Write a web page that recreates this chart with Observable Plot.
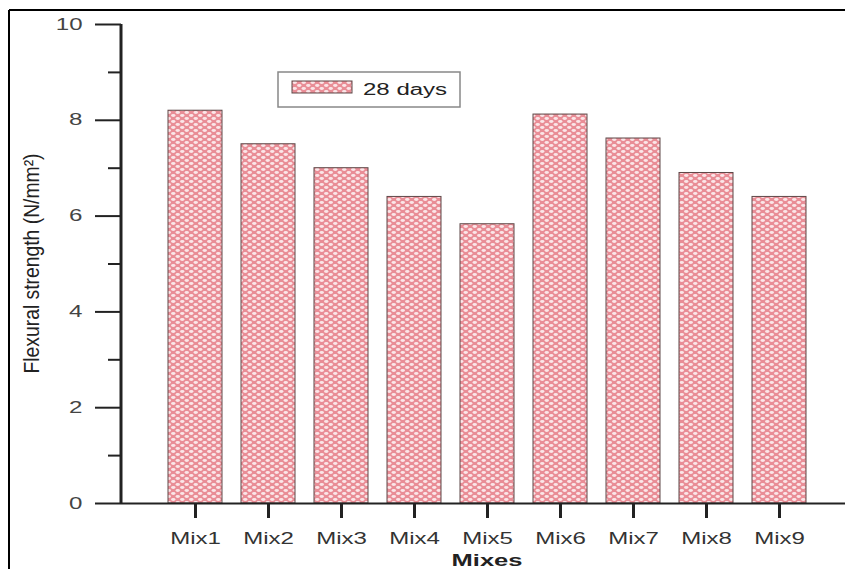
<!DOCTYPE html>
<html>
<head>
<meta charset="utf-8">
<script src="https://cdn.jsdelivr.net/npm/d3@7"></script>
<script src="https://cdn.jsdelivr.net/npm/@observablehq/plot@0.6"></script>
<style>
  html, body { margin: 0; padding: 0; background: #fff; overflow: hidden; }
  #chart svg { display: block; }
</style>
</head>
<body>
<div id="chart"></div>
<script>
const mixes = ["Mix1", "Mix2", "Mix3", "Mix4", "Mix5", "Mix6", "Mix7", "Mix8", "Mix9"];
const strength28 = [8.2, 7.5, 7.0, 6.4, 5.83, 8.12, 7.62, 6.9, 6.4];
const yMajorTicks = [0, 2, 4, 6, 8, 10];
const yMinorTicks = [1, 3, 5, 7, 9];
const seriesName = "28 days";
const xTitle = "Mixes";
const yTitle = "Flexural strength (N/mm²)";

const data = mixes.map((m, i) => ({mix: m, value: strength28[i]}));

const chart = Plot.plot({
  width: 845,
  height: 569,
  marginLeft: 121,
  marginRight: 0,
  marginTop: 24,
  marginBottom: 66,
  style: {background: "#fff", fontFamily: "'Liberation Sans', Arial, sans-serif", color: "#222"},
  x: {type: "band", domain: mixes, range: [121, 853], paddingInner: 0.264, paddingOuter: 0.62, label: null},
  y: {domain: [0, 10], label: null},
  marks: [
    Plot.barY(data, {x: "mix", y: "value", fill: "url(#dots)", stroke: "#5e4848", strokeWidth: 1}),
    Plot.ruleY([0], {stroke: "#222", strokeWidth: 2}),
    Plot.axisY({ticks: yMajorTicks, tickSize: 26, tickPadding: 13, fontSize: 16, strokeWidth: 2, label: null, tickFormat: d => String(d)}),
    Plot.axisY({ticks: yMinorTicks, tickSize: 13, strokeWidth: 2, label: null, tickFormat: () => ""}),
    Plot.axisX({tickSize: 15, tickPadding: 14, fontSize: 16, strokeWidth: 3, label: null})
  ]
});

document.getElementById("chart").appendChild(chart);
const svg = d3.select(chart);
const ys = chart.scale("y");

// pattern
const defs = svg.insert("defs", ":first-child");
const pat = defs.append("pattern").attr("id", "dots").attr("patternUnits", "userSpaceOnUse")
  .attr("width", 9).attr("height", 6);
pat.append("rect").attr("width", 9).attr("height", 6).attr("fill", "#e98d96");
pat.append("ellipse").attr("cx", 2.25).attr("cy", 1.5).attr("rx", 2.2).attr("ry", 1.4).attr("fill", "#fbe6e8");
pat.append("ellipse").attr("cx", 6.75).attr("cy", 4.5).attr("rx", 2.2).attr("ry", 1.4).attr("fill", "#fbe6e8");

// y axis line
svg.append("line")
  .attr("x1", 121).attr("x2", 121)
  .attr("y1", ys.apply(0) + 1).attr("y2", ys.apply(10))
  .attr("stroke", "#222").attr("stroke-width", 3);

// stretch horizontal texts (reference image is stretched horizontally)
svg.selectAll("text").each(function() {
  const len = this.getComputedTextLength();
  if (len > 0) {
    this.setAttribute("textLength", (len * 1.5).toFixed(1));
    this.setAttribute("lengthAdjust", "spacingAndGlyphs");
  }
});
svg.selectAll('g[aria-label="y-axis tick label"] text').attr("fill", "#444");
svg.selectAll('g[aria-label="x-axis tick label"] text').attr("fill", "#333");

// x title
const xt = svg.append("text").attr("x", 487).attr("y", 566)
  .attr("text-anchor", "middle").attr("font-weight", "bold").attr("font-size", 17)
  .attr("fill", "#222").text(xTitle);
xt.attr("textLength", (xt.node().getComputedTextLength() * 1.5).toFixed(1)).attr("lengthAdjust", "spacingAndGlyphs");

// y title
svg.append("text").attr("transform", "translate(39," + ((ys.apply(0) + ys.apply(10)) / 2) + ") rotate(-90) scale(1,1.35)")
  .attr("text-anchor", "middle").attr("font-size", 16).attr("fill", "#222")
  .attr("textLength", 220).attr("lengthAdjust", "spacingAndGlyphs")
  .text(yTitle);

// legend
const lg = svg.append("g");
lg.append("rect").attr("x", 278).attr("y", 72).attr("width", 182).attr("height", 35)
  .attr("fill", "#fff").attr("stroke", "#888").attr("stroke-width", 1.5);
lg.append("rect").attr("x", 292).attr("y", 81).attr("width", 60).attr("height", 12)
  .attr("fill", "url(#dots)").attr("stroke", "#5e4848").attr("stroke-width", 1);
const lt = lg.append("text").attr("x", 363).attr("y", 95).attr("text-anchor", "start")
  .attr("font-size", 16).attr("fill", "#222").text(seriesName);
lt.attr("textLength", (lt.node().getComputedTextLength() * 1.5).toFixed(1)).attr("lengthAdjust", "spacingAndGlyphs");

// outer frame lines
svg.append("line").attr("x1", 9).attr("x2", 845).attr("y1", 10).attr("y2", 10).attr("stroke", "#000").attr("stroke-width", 2);
svg.append("line").attr("x1", 9).attr("x2", 9).attr("y1", 10).attr("y2", 569).attr("stroke", "#000").attr("stroke-width", 2);
</script>
</body>
</html>
